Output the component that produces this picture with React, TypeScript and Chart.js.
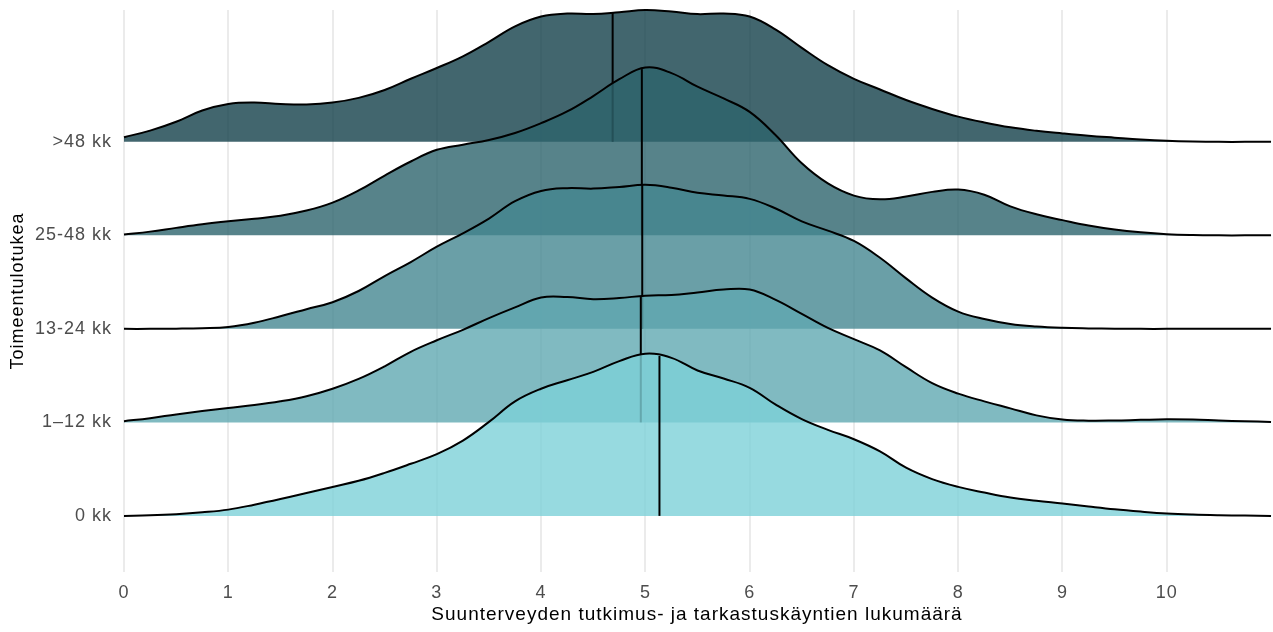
import React, { useEffect, useRef } from "react";
import { Chart, registerables } from "chart.js";

Chart.register(...registerables);

// Ridge groups, bottom to top
const GROUPS = ["0 kk", "1–12 kk", "13-24 kk", "25-48 kk", ">48 kk"];

// Shared x positions of the density curves
const X_POS = [
  0, 0.25, 0.5, 0.75, 1, 1.25, 1.5, 1.75, 2, 2.25, 2.5, 2.75, 3, 3.25, 3.5, 3.75,
  4, 4.25, 4.5, 4.75, 5, 5.25, 5.5, 5.75, 6, 6.25, 6.5, 6.75, 7, 7.25, 7.5, 7.75,
  8, 8.25, 8.5, 8.75, 9, 9.25, 9.5, 9.75, 10, 10.25, 10.5, 10.75, 11,
];

// Density heights (in ridge-row units) for each group
const H_0 = [
  0, 0.006, 0.018, 0.038, 0.067, 0.12, 0.18, 0.245, 0.31, 0.375, 0.46, 0.557, 0.66, 0.805, 1.005, 1.225,
  1.36, 1.451, 1.54, 1.655, 1.735, 1.69, 1.555, 1.469, 1.37, 1.19, 1.035, 0.92, 0.82, 0.69, 0.515, 0.393,
  0.31, 0.25, 0.197, 0.162, 0.132, 0.1, 0.07, 0.046, 0.026, 0.014, 0.007, 0.003, 0,
];
const H_1_12 = [
  0.013, 0.045, 0.085, 0.122, 0.155, 0.185, 0.225, 0.28, 0.36, 0.465, 0.6, 0.755, 0.878, 0.99, 1.115, 1.23,
  1.335, 1.34, 1.318, 1.33, 1.355, 1.362, 1.39, 1.42, 1.42, 1.31, 1.16, 1.01, 0.89, 0.77, 0.59, 0.42,
  0.308, 0.225, 0.15, 0.075, 0.03, 0.018, 0.02, 0.027, 0.033, 0.03, 0.02, 0.012, 0.005,
];
const H_13_24 = [
  0, 0, 0.002, 0.007, 0.02, 0.065, 0.135, 0.21, 0.285, 0.405, 0.565, 0.715, 0.879, 1.022, 1.18, 1.365,
  1.475, 1.505, 1.5, 1.518, 1.54, 1.51, 1.455, 1.426, 1.39, 1.287, 1.15, 1.05, 0.94, 0.76, 0.54, 0.335,
  0.185, 0.105, 0.052, 0.025, 0.011, 0.005, 0.002, 0, 0, 0, 0, 0, 0,
];
const H_25_48 = [
  0.01, 0.04, 0.08, 0.118, 0.15, 0.178, 0.21, 0.265, 0.35, 0.48, 0.64, 0.79, 0.915, 0.97, 1.02, 1.095,
  1.2, 1.325, 1.49, 1.67, 1.795, 1.735, 1.59, 1.464, 1.32, 1.07, 0.77, 0.555, 0.425, 0.385, 0.415, 0.465,
  0.49, 0.435, 0.31, 0.225, 0.163, 0.105, 0.062, 0.032, 0.012, 0.003, 0, 0, 0,
];
const H_GT48 = [
  0.05, 0.12, 0.215, 0.335, 0.405, 0.42, 0.405, 0.4, 0.42, 0.47, 0.555, 0.675, 0.79, 0.915, 1.07, 1.235,
  1.34, 1.372, 1.367, 1.386, 1.409, 1.393, 1.366, 1.373, 1.34, 1.2, 1.005, 0.82, 0.674, 0.56, 0.447, 0.352,
  0.27, 0.207, 0.155, 0.118, 0.09, 0.065, 0.045, 0.026, 0.012, 0.004, 0, 0, 0,
];
const HEIGHTS = [H_0, H_1_12, H_13_24, H_25_48, H_GT48];

// Medians of each group
const MEDIANS = [5.135, 4.956, 4.97, 4.966, 4.686];

const FILLS = [
  "rgba(125,209,216,0.8)",
  "rgba(96,169,178,0.8)",
  "rgba(69,135,145,0.8)",
  "rgba(45,100,109,0.8)",
  "rgba(19,64,74,0.8)",
];

const X_TITLE = "Suunterveyden tutkimus- ja tarkastuskäyntien lukumäärä";
const Y_TITLE = "Toimeentulotukea";
const FONT = "'Liberation Sans', Arial, Helvetica, sans-serif";

function heightAt(xs: number[], hs: number[], x: number): number {
  for (let i = 0; i < xs.length - 1; i++) {
    if (x >= xs[i] && x <= xs[i + 1]) {
      const t = (x - xs[i]) / (xs[i + 1] - xs[i]);
      return hs[i] + t * (hs[i + 1] - hs[i]);
    }
  }
  return 0;
}

const letterSpacingPlugin = {
  id: "letterSpacing",
  beforeDraw(chart: any) {
    chart.ctx.letterSpacing = "1px";
  },
  afterDraw(chart: any) {
    chart.ctx.letterSpacing = "0px";
  },
};

export default function App() {
  const ref = useRef<HTMLCanvasElement | null>(null);

  useEffect(() => {
    if (!ref.current) return;
    const datasets: any[] = [];
    GROUPS.forEach((g, i) => {
      const hs = HEIGHTS[i];
      const med = MEDIANS[i];
      const mh = heightAt(X_POS, hs, med);
      datasets.push({
        label: g + " median",
        data: [
          { x: med, y: i },
          { x: med, y: i + mh },
        ],
        borderColor: "#000",
        borderWidth: 2,
        pointRadius: 0,
        fill: false,
        tension: 0,
        clip: false,
      });
      datasets.push({
        label: g,
        data: X_POS.map((x, k) => ({ x, y: i + hs[k] })),
        borderColor: "#000",
        borderWidth: 2,
        backgroundColor: FILLS[i],
        pointRadius: 0,
        fill: { value: i },
        tension: 0.4,
        clip: false,
      });
    });

    const chart = new Chart(ref.current, {
      type: "line",
      data: { datasets },
      plugins: [letterSpacingPlugin],
      options: {
        animation: false,
        responsive: false,
        events: [],
        layout: { padding: { top: 10, right: 3, left: 0, bottom: 0 } },
        plugins: {
          legend: { display: false },
          tooltip: { enabled: false },
        },
        scales: {
          x: {
            type: "linear",
            min: 0,
            max: 10.99,
            border: { display: false },
            grid: { color: "#ebebeb", lineWidth: 2, drawTicks: false },
            ticks: {
              stepSize: 1,
              includeBounds: false,
              autoSkip: false,
              maxRotation: 0,
              padding: 10,
              color: "#4d4d4d",
              font: { family: FONT, size: 18 },
            },
            title: {
              display: true,
              text: X_TITLE,
              color: "#000",
              font: { family: FONT, size: 19 },
              padding: { top: 0, bottom: 6 },
            },
            afterFit: (s: any) => {
              s.height = 60;
              s.paddingLeft = 0;
              s.paddingRight = 0;
            },
          },
          y: {
            type: "linear",
            min: -0.6,
            max: 5.41,
            border: { display: false },
            grid: { display: false, drawTicks: false },
            ticks: {
              stepSize: 1,
              includeBounds: false,
              autoSkip: false,
              padding: 12,
              color: "#4d4d4d",
              font: { family: FONT, size: 18 },
              callback: (v: any) => GROUPS[v as number] ?? "",
            },
            title: {
              display: true,
              text: Y_TITLE,
              color: "#000",
              font: { family: FONT, size: 18 },
              padding: { top: 7, bottom: 0 },
            },
            afterFit: (s: any) => {
              s.width = 124;
              s.paddingTop = 0;
              s.paddingBottom = 0;
            },
          },
        },
      } as any,
    });
    return () => chart.destroy();
  }, []);

  return (
    <div style={{ position: "absolute", left: 0, top: 0, width: 1273, height: 632, background: "#fff" }}>
      <canvas ref={ref} width={1273} height={632} style={{ display: "block" }} />
    </div>
  );
}
